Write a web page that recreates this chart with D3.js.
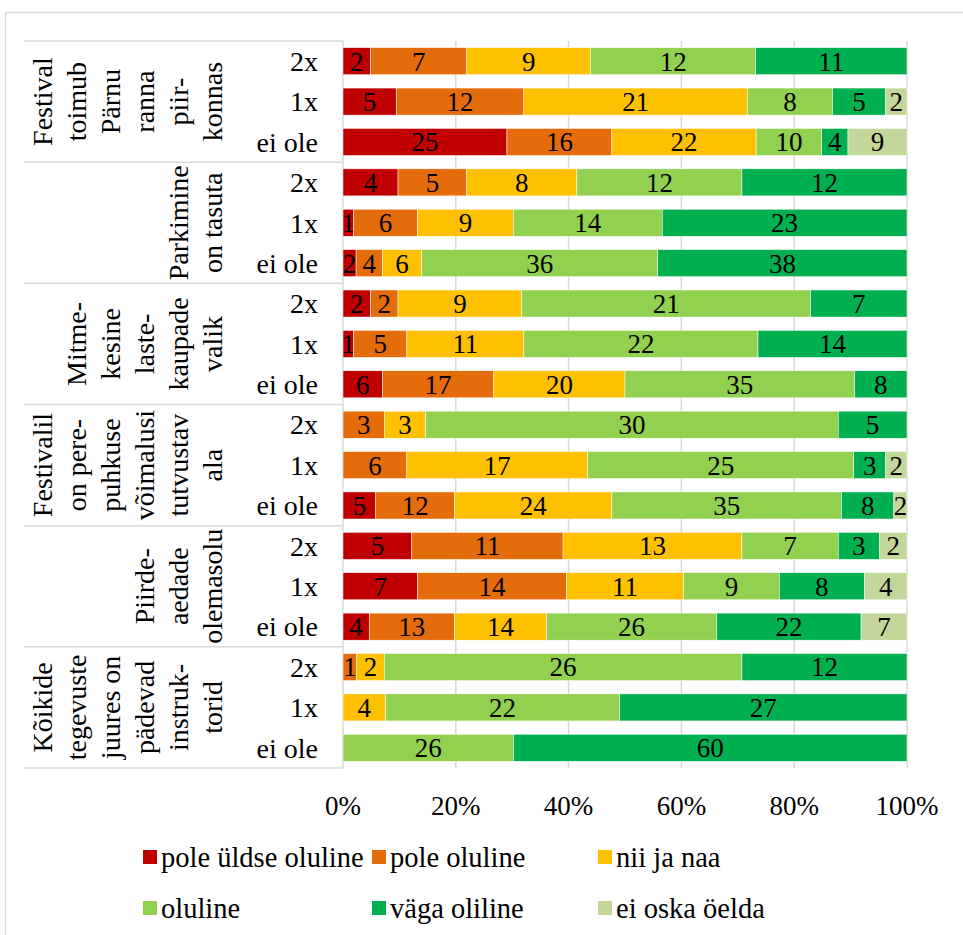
<!DOCTYPE html>
<html>
<head>
<meta charset="utf-8">
<script src="https://cdn.jsdelivr.net/npm/d3@7"></script>
<style>
  body { margin: 0; background: #fff; }
</style>
</head>
<body>
<div id="chart"></div>
<script>
let categories = ['pole üldse oluline', 'pole oluline', 'nii ja naa', 'oluline', 'väga oliline', 'ei oska öelda'];
let colors = ['#c00000', '#e46c0a', '#ffc000', '#92d050', '#00b050', '#c4d79b'];
let rowLabels = ['2x', '1x', 'ei ole'];
let groupLabels = [
  ['Festival', 'toimub', 'Pärnu', 'ranna', 'piir-', 'konnas'],
  ['Parkimine', 'on tasuta'],
  ['Mitme-', 'kesine', 'laste-', 'kaupade', 'valik'],
  ['Festivalil', 'on pere-', 'puhkuse', 'võimalusi', 'tutvustav', 'ala'],
  ['Piirde-', 'aedade', 'olemasolu'],
  ['Kõikide', 'tegevuste', 'juures on', 'pädevad', 'instruk-', 'torid']
];
// counts per row, rows go group by group: 2x, 1x, ei ole
let poleUldse   = [2, 5, 25,  4, 1, 2,   2, 1, 6,   0, 0, 5,    5, 7, 4,    0, 0, 0];
let pole        = [7, 12, 16, 5, 6, 4,   2, 5, 17,  3, 6, 12,   11, 14, 13, 1, 0, 0];
let niiJaNaa    = [9, 21, 22, 8, 9, 6,   9, 11, 20, 3, 17, 24,  13, 11, 14, 2, 4, 0];
let oluline     = [12, 8, 10, 12, 14, 36, 21, 22, 35, 30, 25, 35, 7, 9, 26, 26, 22, 26];
let vagaOluline = [11, 5, 4,  12, 23, 38, 7, 14, 8,  5, 3, 8,    3, 8, 22,  12, 27, 60];
let eiOska      = [0, 2, 9,   0, 0, 0,   0, 0, 0,   0, 2, 2,    2, 4, 7,    0, 0, 0];
let xTicks = [0, 0.2, 0.4, 0.6, 0.8, 1];

let width = 963, height = 935;
let plotLeft = 343, plotRight = 907, plotTop = 41, plotBottom = 768;
let fs = 27;

let seriesData = [poleUldse, pole, niiJaNaa, oluline, vagaOluline, eiOska];
let rows = poleUldse.map((v, i) => {
  let r = { id: i };
  categories.forEach((c, j) => { r[c] = seriesData[j][i]; });
  return r;
});

let svg = d3.select('#chart').append('svg')
            .attr('width', width)
            .attr('height', height)
            .style('font-family', "'Liberation Serif', 'Times New Roman', serif")
            .attr('font-size', fs);

// outer chart border
svg.append('rect')
   .attr('x', 5.5).attr('y', 12.5)
   .attr('width', 980).attr('height', 940)
   .attr('fill', 'none')
   .attr('stroke', '#d9d9d9')
   .attr('stroke-width', 1.5);

let xScale = d3.scaleLinear().domain([0, 1]).range([plotLeft, plotRight]);
let yScale = d3.scaleBand().domain(rows.map(r => r.id)).range([plotTop, plotBottom]).paddingInner(0.33).paddingOuter(0.165);

// gridlines
svg.append('g')
   .selectAll('line')
   .data(xTicks.slice(1))
   .enter()
   .append('line')
   .attr('x1', d => xScale(d)).attr('x2', d => xScale(d))
   .attr('y1', plotTop).attr('y2', plotBottom)
   .attr('stroke', '#d9d9d9')
   .attr('stroke-width', 1.5);

// label table lines
let groupH = (plotBottom - plotTop) / groupLabels.length;
svg.append('g')
   .selectAll('line')
   .data(d3.range(groupLabels.length + 1))
   .enter()
   .append('line')
   .attr('x1', 24).attr('x2', plotLeft)
   .attr('y1', d => plotTop + d * groupH).attr('y2', d => plotTop + d * groupH)
   .attr('stroke', '#d9d9d9')
   .attr('stroke-width', 1.5);

svg.append('line')
   .attr('x1', plotLeft).attr('x2', plotLeft)
   .attr('y1', plotTop).attr('y2', plotBottom)
   .attr('stroke', '#d9d9d9')
   .attr('stroke-width', 1.5);

// stacked bars, normalized to 100%
let stacked = d3.stack().keys(categories).offset(d3.stackOffsetExpand)(rows);

let layers = svg.append('g')
                .selectAll('g')
                .data(stacked)
                .enter()
                .append('g')
                .attr('fill', (d, i) => colors[i]);

layers.selectAll('rect')
      .data(d => d)
      .enter()
      .append('rect')
      .attr('x', d => xScale(d[0]))
      .attr('y', d => yScale(d.data.id))
      .attr('width', d => xScale(d[1]) - xScale(d[0]))
      .attr('height', yScale.bandwidth())
      .attr('stroke', '#fff')
      .attr('stroke-width', 0.5);

layers.selectAll('text')
      .data((d, i) => d.map(p => ({ p: p, v: seriesData[i][p.data.id] })).filter(o => o.v > 0))
      .enter()
      .append('text')
      .attr('x', o => xScale((o.p[0] + o.p[1]) / 2))
      .attr('y', o => yScale(o.p.data.id) + yScale.bandwidth() / 2)
      .attr('dy', '0.35em')
      .attr('text-anchor', 'middle')
      .attr('fill', '#000')
      .text(o => o.v);

// row labels
svg.append('g')
   .selectAll('text')
   .data(rows)
   .enter()
   .append('text')
   .attr('x', 318)
   .attr('y', d => yScale(d.id) + yScale.bandwidth() / 2)
   .attr('dy', '0.35em')
   .attr('text-anchor', 'end')
   .attr('font-size', 28)
   .text(d => rowLabels[d.id % 3]);

// group labels, rotated
groupLabels.forEach((lines, g) => {
  let cy = plotTop + (g + 0.5) * groupH;
  lines.forEach((line, k) => {
    let bx = 222 - 34 * (lines.length - 1 - k);
    svg.append('text')
       .attr('transform', `translate(${bx}, ${cy}) rotate(-90)`)
       .attr('text-anchor', 'middle')
       .attr('font-size', 28)
       .text(line);
  });
});

// x axis labels
svg.append('g')
   .selectAll('text')
   .data(xTicks)
   .enter()
   .append('text')
   .attr('x', d => xScale(d))
   .attr('y', 815)
   .attr('text-anchor', 'middle')
   .text(d => d3.format('.0%')(d));

// legend
let legendX = [143, 372, 598];
let legendY = [857, 908];
let legend = svg.append('g')
                .selectAll('g')
                .data(categories)
                .enter()
                .append('g')
                .attr('transform', (d, i) => `translate(${legendX[i % 3]}, ${legendY[Math.floor(i / 3)]})`);

legend.append('rect')
      .attr('x', 0).attr('y', -7)
      .attr('width', 14).attr('height', 14)
      .attr('fill', (d, i) => colors[i]);

legend.append('text')
      .attr('x', 18)
      .attr('dy', '0.35em')
      .attr('font-size', 28.5)
      .text(d => d);
</script>
</body>
</html>
